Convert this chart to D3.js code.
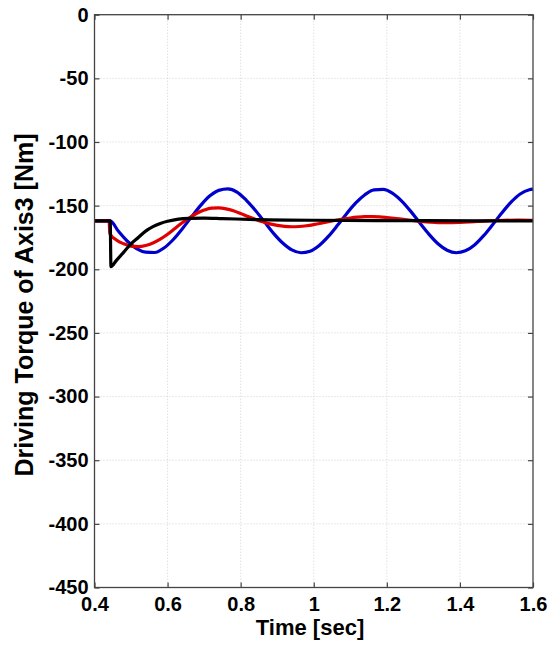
<!DOCTYPE html>
<html>
<head>
<meta charset="utf-8">
<script src="https://cdn.jsdelivr.net/npm/d3@7"></script>
<style>
	body { margin: 0; background: #fff; }
	svg text { font-family: "Liberation Sans", Arial, sans-serif; font-weight: bold; fill: #000; }
</style>
</head>
<body>
<div id="viz-holder"></div>
<script>
// tick values
let xTicks = [0.4, 0.6, 0.8, 1, 1.2, 1.4, 1.6];
let yTicks = [0, -50, -100, -150, -200, -250, -300, -350, -400, -450];

// blue curve (time, torque)
let blueT = [0.40, 0.443, 0.465, 0.49, 0.515, 0.54, 0.565, 0.59, 0.615, 0.64, 0.665, 0.69, 0.715, 0.74, 0.765, 0.79, 0.815, 0.84, 0.865, 0.89, 0.915, 0.94, 0.965, 0.99, 1.015, 1.04, 1.065, 1.09, 1.115, 1.14, 1.165, 1.19, 1.215, 1.24, 1.265, 1.29, 1.315, 1.34, 1.365, 1.39, 1.415, 1.44, 1.465, 1.49, 1.515, 1.54, 1.565, 1.59, 1.60];
let blueV = [-162, -162, -170, -178, -183.8, -186.5, -186.8, -183.3, -176.8, -168.3, -159, -150, -142.5, -138, -136.8, -139.3, -145.6, -153.6, -162.7, -171.8, -179.4, -184.8, -187, -185.8, -181.3, -174.2, -165.5, -156.3, -147.9, -141.4, -137.6, -137.3, -140.2, -146.2, -154.3, -163.5, -172.4, -180, -185.1, -187, -185.5, -180.9, -173.6, -164.8, -155.6, -147.3, -140.9, -137.5, -137];

// red curve
let redT = [0.40, 0.44, 0.442, 0.46, 0.48, 0.50, 0.52, 0.54, 0.56, 0.58, 0.60, 0.62, 0.64, 0.66, 0.68, 0.70, 0.72, 0.74, 0.76, 0.78, 0.80, 0.82, 0.84, 0.86, 0.88, 0.90, 0.92, 0.94, 0.96, 0.98, 1.00, 1.02, 1.04, 1.06, 1.08, 1.10, 1.12, 1.14, 1.16, 1.18, 1.20, 1.22, 1.24, 1.26, 1.28, 1.30, 1.32, 1.34, 1.36, 1.38, 1.40, 1.44, 1.48, 1.52, 1.56, 1.60];
let redV = [-162, -162, -172, -177, -180, -181.8, -182.2, -181.3, -179.3, -176.3, -172.5, -168, -163.5, -159.5, -156, -153.5, -152, -151.8, -152.5, -154, -156.2, -158.6, -160.8, -162.7, -164.3, -165.5, -166.3, -166.6, -166.4, -165.8, -164.9, -163.8, -162.6, -161.5, -160.5, -159.7, -159.1, -158.7, -158.6, -158.8, -159.3, -159.9, -160.6, -161.3, -162, -162.6, -163, -163.3, -163.4, -163.3, -163.1, -162.5, -161.9, -161.5, -161.4, -161.5];

// black curve
let blackT = [0.40, 0.443, 0.445, 0.46, 0.48, 0.50, 0.52, 0.54, 0.56, 0.58, 0.60, 0.63, 0.66, 0.70, 0.75, 0.85, 1.0, 1.3, 1.6];
let blackV = [-162, -162, -198, -193, -186.5, -180, -175, -170, -166.5, -164, -162.3, -160.6, -160, -159.8, -160.2, -161, -161.5, -161.8, -162];

let margin = {top: 14.7, right: 18, bottom: 57.5, left: 94.5};
let width = 551 - margin.left - margin.right;
let height = 645 - margin.top - margin.bottom;

let svg = d3.select('#viz-holder')
	.append('svg')
	.attr('width', 551)
	.attr('height', 645);

let g = svg.append('g')
	.attr('transform', 'translate(' + margin.left + ',' + margin.top + ')');

let x = d3.scaleLinear().domain([0.4, 1.6]).range([0, width]);
let y = d3.scaleLinear().domain([-450, 0]).range([height, 0]);

// grid
g.selectAll('.vgrid')
	.data(xTicks.slice(1, -1))
	.enter().append('line')
	.attr('x1', function(d) { return x(d); })
	.attr('x2', function(d) { return x(d); })
	.attr('y1', 0).attr('y2', height)
	.attr('stroke', '#c8c8c8').attr('stroke-width', 0.8)
	.attr('stroke-dasharray', '1,2');

g.selectAll('.hgrid')
	.data(yTicks.slice(1, -1))
	.enter().append('line')
	.attr('y1', function(d) { return y(d); })
	.attr('y2', function(d) { return y(d); })
	.attr('x1', 0).attr('x2', width)
	.attr('stroke', '#c8c8c8').attr('stroke-width', 0.8)
	.attr('stroke-dasharray', '1,2');

// curves
let line = d3.line()
	.x(function(d) { return x(d[0]); })
	.y(function(d) { return y(d[1]); })
	.curve(d3.curveMonotoneX);

let series = [
	{ t: blueT, v: blueV, color: '#0000cc' },
	{ t: redT, v: redV, color: '#e00000' },
	{ t: blackT, v: blackV, color: '#000000' }
];

series.forEach(function(s) {
	g.append('path')
		.datum(d3.zip(s.t, s.v))
		.attr('d', line)
		.attr('fill', 'none')
		.attr('stroke', s.color)
		.attr('stroke-width', 3.2)
		.attr('stroke-linejoin', 'round');
});

// axes: ticks inward on all sides, plain hyphen minus in labels
let xAxis = d3.axisBottom(x).tickValues(xTicks).tickSizeInner(-5).tickSizeOuter(0).tickPadding(9)
	.tickFormat(function(d) { return String(d); });
let yAxis = d3.axisLeft(y).tickValues(yTicks).tickSizeInner(-5).tickSizeOuter(0).tickPadding(6)
	.tickFormat(function(d) { return String(d); });

let gx = g.append('g').attr('transform', 'translate(0,' + height + ')').call(xAxis);
let gy = g.append('g').call(yAxis);
let gxt = g.append('g').call(d3.axisTop(x).tickValues(xTicks).tickSizeInner(-5).tickSizeOuter(0).tickFormat(''));
let gyr = g.append('g').attr('transform', 'translate(' + width + ',0)')
	.call(d3.axisRight(y).tickValues(yTicks).tickSizeInner(-5).tickSizeOuter(0).tickFormat(''));

[gx, gy, gxt, gyr].forEach(function(a) {
	a.select('.domain').remove();
	a.selectAll('line').attr('stroke', '#444').attr('stroke-width', 1.2);
});
gx.selectAll('text').style('font-size', '20px').attr('dy', '0.71em');
gy.selectAll('text').style('font-size', '20px');

// frame
g.append('rect')
	.attr('width', width).attr('height', height)
	.attr('fill', 'none').attr('stroke', '#444').attr('stroke-width', 1.3);

// titles
svg.append('text')
	.attr('x', 310).attr('y', 635)
	.attr('text-anchor', 'middle')
	.style('font-size', '22px')
	.text('Time [sec]');

svg.append('text')
	.attr('transform', 'translate(33,305) rotate(-90)')
	.attr('text-anchor', 'middle')
	.style('font-size', '25px')
	.text('Driving Torque of Axis3 [Nm]');
</script>
</body>
</html>
